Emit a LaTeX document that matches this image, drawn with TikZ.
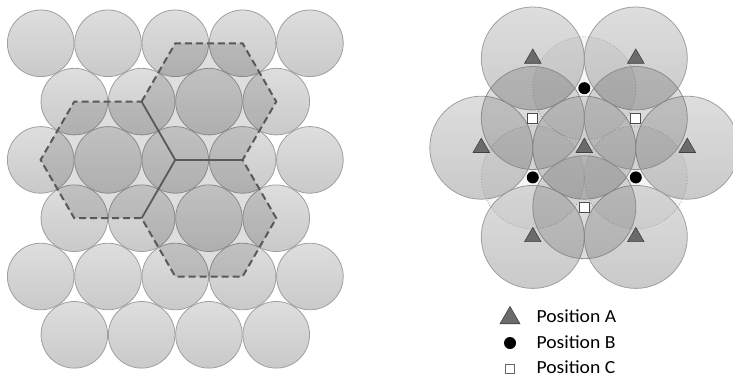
\documentclass[tikz,border=0pt]{standalone}
\usepackage{fontspec}
\setmainfont{Carlito}
\usetikzlibrary{shapes.geometric}
\begin{document}
\begin{tikzpicture}[x=1pt,y=-1pt,
  ball/.style={draw=gray!75, line width=0.8pt, top color=gray!26, bottom color=gray!42},
  hexfill/.style={fill=black, fill opacity=0.13},
  hexedge/.style={draw=black!65, line width=2pt, dash pattern=on 7pt off 4pt, line join=miter},
  hexspoke/.style={draw=black!65, line width=1.8pt},
  layerB/.style={draw=gray!75, dotted, line width=0.8pt, fill=black, fill opacity=0.04},
  layerC/.style={draw=gray!90, line width=0.8pt, fill=black, fill opacity=0.14},
  posA/.style={regular polygon, regular polygon sides=3, draw=black!75, fill=black!58, minimum size=19pt, inner sep=0pt, line width=0.6pt},
  posB/.style={circle, fill=black, minimum size=12pt, inner sep=0pt},
  posC/.style={rectangle, draw=black!70, fill=white, minimum size=10pt, inner sep=0pt, line width=0.7pt},
  legtext/.style={anchor=base west, font=\fontsize{18.5}{20}\selectfont, text=black}
]
\useasboundingbox (0,0) rectangle (733,378);

% ---- close-packed layer (left) ----
\foreach \r in {0,2,4}
  \foreach \c in {0,...,4}
    \path[ball] (40.7+67.3*\c, 43.3+58.3*\r) circle (33.3);
\foreach \r in {1,3,5}
  \foreach \c in {0,...,3}
    \path[ball] (74.35+67.3*\c, 43.3+58.3*\r) circle (33.3);

% three hexagonal cells sharing one corner
\foreach \hx/\hy in {208.95/101.6, 107.9/159.9, 208.95/218.2}
  \fill[hexfill, shift={(\hx,\hy)}]
    (67.3,0) -- (33.65,58.3) -- (-33.65,58.3) -- (-67.3,0)
    -- (-33.65,-58.3) -- (33.65,-58.3) -- cycle;

\coordinate (hc) at (175.25,159.9);
\coordinate (h1) at (141.6,101.6);
\coordinate (h2) at (242.6,159.9);
\coordinate (h3) at (141.6,218.2);

\draw[hexedge] (h1) -- (175.25,43.3) -- (242.6,43.3) -- (276.25,101.6) -- (h2)
  -- (276.25,218.2) -- (242.6,276.5) -- (175.25,276.5) -- (h3)
  -- (74.25,218.2) -- (40.6,159.9) -- (74.25,101.6) -- cycle;
\draw[hexspoke] (hc) -- (h1);
\draw[hexspoke] (hc) -- (h2);
\draw[hexspoke] (hc) -- (h3);

% ---- stacked layers (right) ----
\foreach \ax/\ay in {532.8/58.5, 635.8/58.5, 481.3/147.7, 584.3/147.7, 687.3/147.7, 532.8/236.9, 635.8/236.9}
  \path[ball] (\ax,\ay) circle (51.5);
\foreach \bx/\by in {584.3/88.2, 532.8/177.4, 635.8/177.4}
  \path[layerB] (\bx,\by) circle (51.5);
\foreach \cx/\cy in {532.8/118.0, 635.8/118.0, 584.3/207.2}
  \path[layerC] (\cx,\cy) circle (51.5);

\node[posA] (a1) at (532.8,58.5) {};
\node[posA] (a2) at (635.8,58.5) {};
\node[posA] (a3) at (481.3,147.7) {};
\node[posA] (a4) at (584.3,147.7) {};
\node[posA] (a5) at (687.3,147.7) {};
\node[posA] (a6) at (532.8,236.9) {};
\node[posA] (a7) at (635.8,236.9) {};

\node[posB] (b1) at (584.3,88.2) {};
\node[posB] (b2) at (532.8,177.4) {};
\node[posB] (b3) at (635.8,177.4) {};

\node[posC] (c1) at (532.8,118.0) {};
\node[posC] (c2) at (635.8,118.0) {};
\node[posC] (c3) at (584.3,207.2) {};

% ---- legend ----
\node[posA, minimum size=23pt] (legA) at (510,318) {};
\node[posB] (legB) at (510,343) {};
\node[posC, minimum size=8.5pt, draw=black!60] (legC) at (510,369) {};
\node[legtext] (txtA) at (533,322) {\scalebox{1.06}[1]{Position A}};
\node[legtext] (txtB) at (533,348) {\scalebox{1.06}[1]{Position B}};
\node[legtext] (txtC) at (533,373.5) {\scalebox{1.06}[1]{Position C}};
\end{tikzpicture}
\end{document}
